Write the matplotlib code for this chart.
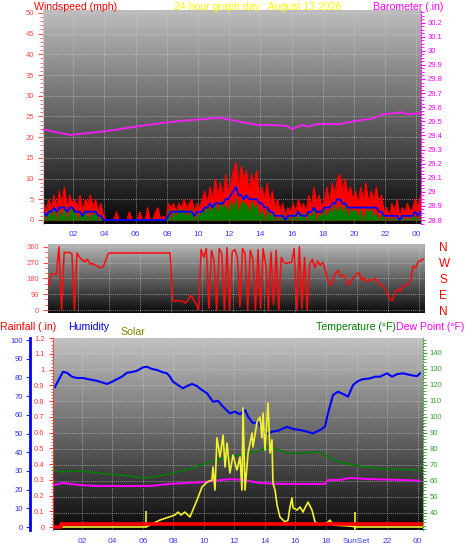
import numpy as np
import matplotlib.pyplot as plt
from matplotlib.ticker import MultipleLocator

plt.rcParams['font.family'] = ['Liberation Sans', 'DejaVu Sans']

# ---- time axis (hours since midnight) ----
hour_ticks = [2, 4, 6, 8, 10, 12, 14, 16, 18, 20, 22, 24]
hour_labels = ['02', '04', '06', '08', '10', '12', '14', '16', '18', '20', '22', '00']
hour_labels_bottom = ['02', '04', '06', '08', '10', '12', '14', '16', '18', 'SunSet', '22', '00']

# ---- wind: 10 minute samples starting 00:06 ----
wind_start = 0.1
wind_step = 1 / 6
gust = [4, 2, 5, 3, 6, 3, 7, 4, 8, 3, 6, 4, 5, 3, 6, 2, 5, 4, 6, 3, 5, 2, 4, 1,
        0, 0, 0, 0, 2, 0, 0, 0, 0, 2, 0, 0, 0, 2, 0, 0, 3, 0, 0, 2, 3, 0, 1, 0,
        4, 3, 4, 2, 4, 3, 5, 3, 4, 5, 2, 4, 3, 5, 7, 4, 8, 5, 10, 6, 9, 5, 11, 7,
        9, 12, 14, 8, 13, 10, 12, 7, 11, 9, 12, 6, 8, 5, 9, 4, 7, 3, 5, 2, 4, 1, 3, 2,
        4, 2, 5, 3, 4, 2, 6, 3, 8, 4, 6, 3, 5, 8, 4, 9, 6, 10, 11, 7, 10, 6, 8, 5,
        7, 4, 8, 5, 9, 4, 7, 5, 8, 4, 6, 2, 3, 1, 4, 2, 5, 1, 3, 2, 4, 2, 3, 5,
        3, 6]
avg = [2, 1, 2, 2, 3, 2, 3, 3, 3, 2, 3, 3, 2, 2, 2, 1, 2, 2, 2, 2, 2, 1, 1, 0,
       0, 0, 0, 0, 0, 0, 0, 0, 0, 0, 0, 0, 0, 0, 0, 0, 0, 0, 0, 0, 0, 0, 0, 0,
       1, 2, 2, 2, 2, 2, 2, 2, 2, 2, 1, 2, 2, 2, 3, 3, 4, 3, 4, 4, 4, 4, 5, 5,
       6, 7, 8, 6, 6, 5, 6, 5, 5, 5, 5, 4, 4, 3, 3, 2, 2, 1, 1, 1, 1, 0, 1, 1,
       1, 1, 2, 1, 1, 1, 2, 2, 3, 2, 2, 2, 3, 3, 3, 4, 4, 5, 5, 4, 4, 3, 3, 3,
       3, 3, 3, 3, 3, 3, 3, 3, 3, 2, 2, 1, 1, 1, 1, 1, 1, 0, 1, 1, 1, 1, 1, 2,
       1, 2]
speed = [2, 0, 3, 1, 3, 0, 3, 1, 4, 0, 3, 2, 3, 0, 2, 1, 3, 0, 2, 1, 3, 0, 1, 0,
         0, 0, 0, 0, 0, 0, 0, 0, 0, 0, 0, 0, 0, 0, 0, 0, 0, 0, 0, 0, 0, 0, 0, 0,
         3, 0, 3, 1, 3, 2, 3, 1, 2, 3, 0, 2, 1, 3, 2, 4, 2, 4, 4, 2, 5, 3, 4, 2,
         5, 3, 6, 2, 5, 4, 4, 2, 5, 3, 4, 1, 3, 0, 3, 1, 2, 0, 1, 0, 2, 0, 1, 0,
         2, 0, 2, 1, 2, 0, 2, 1, 3, 0, 2, 1, 3, 1, 3, 2, 4, 2, 4, 2, 4, 1, 3, 2,
         3, 1, 3, 0, 3, 2, 3, 1, 2, 0, 2, 0, 1, 0, 1, 0, 1, 0, 1, 0, 1, 0, 1, 1,
         0, 2]
wind_dir = [140, 205, 205, 205, 360, 0, 330,
            325, 330, 320, 0, 325, 300,
            285, 275, 290, 260, 265, 255,
            250, 240, 245, 280, 320, 325,
            325, 325, 325, 325, 325, 325, 325, 325, 325, 325, 325, 325,
            325, 325, 325, 325, 325, 325, 325, 325, 325, 325, 325,
            55, 50, 55, 52, 48, 40, 60,
            85, 60, 35,
            0, 345, 300, 350, 10, 340,
            280, 0, 350, 320, 0, 355,
            0, 330, 345, 300, 20, 350,
            320, 0, 340, 290, 0, 345,
            10, 350, 250, 0, 330, 30,
            340, 0, 300, 270, 265, 270,
            270, 350, 0, 360, 10, 300,
            0, 260, 290, 240, 280, 255,
            270, 230, 170, 140, 175, 210,
            225, 190, 200, 175, 140, 170,
            185, 200, 215, 170, 185, 160,
            175, 165, 180, 170, 150, 140,
            120, 90, 60, 55, 100, 120,
            105, 135, 140, 145, 170, 250,
            240, 275, 285, 290]

# ---- barometer ----
baro_t = [0.06, 1.79, 4.17, 6.28, 7.56, 8.85, 10.13, 11.41, 11.86, 12.69, 13.78, 14.81,
          15.71, 16.03, 16.67, 17.05, 17.63, 19.1, 20.19, 21.22, 21.86, 23.08, 23.4, 24.23]
baro = [29.443, 29.403, 29.431, 29.467, 29.486, 29.502, 29.514, 29.526, 29.516, 29.497,
        29.474, 29.474, 29.467, 29.445, 29.474, 29.462, 29.481, 29.481, 29.504, 29.521,
        29.55, 29.564, 29.55, 29.557]

# ---- humidity ----
hum_t = [0.23, 0.75, 1.02, 1.34, 1.67, 2.07, 2.39, 2.98, 3.38, 3.64, 3.97, 4.3, 4.62, 4.95,
         5.28, 5.61, 6.0, 6.26, 6.59, 6.92, 7.25, 7.57, 7.77, 7.97, 8.3, 8.62, 8.89, 9.21,
         9.54, 9.74, 10.2, 10.59, 10.92, 11.25, 11.7, 12.03, 12.36, 12.69, 12.89, 13.21,
         13.54, 13.8, 14.12, 14.46, 14.85, 15.44, 15.84, 16.3, 16.75, 17.15, 17.61, 17.93,
         18.13, 18.46, 18.79, 19.25, 19.44, 19.77, 20.03, 20.36, 20.89, 21.21, 21.54, 22.0,
         22.33, 22.66, 23.05, 23.51, 23.97, 24.16]
hum = [74.9, 83.0, 82.5, 80.4, 79.7, 79.7, 79.1, 78.2, 77.2, 76.5, 77.7, 79.1, 80.4, 82.5,
       82.9, 83.6, 85.4, 85.7, 84.5, 84.0, 82.9, 82.2, 80.4, 77.7, 75.9, 74.2, 75.4, 76.5,
       75.4, 74.0, 71.5, 67.0, 67.5, 64.3, 60.8, 61.7, 60.3, 62.6, 59.0, 55.5,
       56.3, 51.9, 49.7, 51.0, 51.5, 53.6, 52.4, 51.9, 51.0, 50.1, 51.9, 53.6,
       60.8, 70.6, 72.4, 70.6, 69.7, 75.9, 77.7, 79.0, 79.5, 80.4, 80.4, 82.2,
       80.4, 81.8, 82.2, 81.3, 80.7, 82.2]

# ---- temperature / dew point ----
temp_t = [0.1, 0.56, 1.5, 2.52, 3.84, 5.15, 6.0, 6.8, 7.57, 9.08, 10.39, 11.51, 12.36,
          13.48, 14.13, 14.52, 15.0, 15.44, 16.75, 17.61, 18.26, 18.92, 20.23, 22.0, 24.16]
temp = [67.3, 65.5, 66.0, 65.5, 64.0, 63.0, 61.7, 62.5, 64.0, 67.3, 71.7, 75.0, 76.0,
        78.5, 80.5, 80.5, 79.0, 77.0, 77.5, 78.0, 74.0, 71.7, 69.0, 67.3, 66.7]
dew_t = [0.1, 0.75, 1.87, 3.18, 5.15, 6.46, 7.77, 9.74, 10.72, 11.7, 12.56, 13.67, 14.98,
         16.3, 17.93, 18.13, 18.92, 19.57, 20.89, 22.85, 24.16]
dew = [57.3, 58.6, 57.3, 56.7, 56.7, 56.7, 58.0, 59.0, 60.0, 61.0, 60.5, 58.6, 58.0,
       58.0, 58.0, 60.5, 60.5, 61.7, 61.0, 60.5, 60.0]

# ---- solar (W/m2) ----
solar_t = [0.1, 6.2, 7.11, 8.1, 8.3, 8.49, 8.75, 9.08, 9.54, 9.87, 10.2, 10.52, 10.59,
           10.72, 10.85, 11.05, 11.25, 11.38, 11.51, 11.7, 11.9, 12.16, 12.36, 12.49,
           12.56, 12.69, 12.89, 13.15, 13.21, 13.48, 13.67, 13.8, 13.87, 14.0, 14.2,
           14.33, 14.46, 14.52, 14.66, 14.79, 14.98, 15.31, 15.51, 15.64, 15.77, 15.84,
           16.1, 16.3, 16.49, 16.82, 17.08, 17.28, 17.61, 18.07, 18.26, 18.46, 19.57,
           19.97, 24.3]
solar = [0, 0, 45, 78, 97, 78, 97, 65, 175, 260, 292, 305, 390,
         240, 580, 455, 598, 390, 546, 351, 468, 370, 455, 240,
         774, 240, 481, 611, 520, 683, 715, 579, 741, 500, 806,
         481, 566, 286, 240, 143, 65, 33, 45, 130, 189, 124,
         110, 130, 97, 162, 110, 33, 13, 26, 45, 13, 6,
         0, 0]
sunrise = 6.2
sunset = 19.9

# ---- rainfall ----
rain_t = [0.1, 0.6, 0.6, 24.36]
rain = [0, 0, 0.02, 0.02]

wind_ticks = [0, 5, 10, 15, 20, 25, 30, 35, 40, 45, 50]
baro_ticks = [28.8, 28.9, 29.0, 29.1, 29.2, 29.3, 29.4, 29.5, 29.6, 29.7, 29.8, 29.9, 30.0, 30.1, 30.2]
baro_labels = ['28.8', '28.9', '29', '29.1', '29.2', '29.3', '29.4', '29.5', '29.6', '29.7',
               '29.8', '29.9', '30', '30.1', '30.2']
dir_ticks = [0, 90, 180, 270, 360]
compass = ['N', 'E', 'S', 'W', 'N']
hum_ticks = [0, 10, 20, 30, 40, 50, 60, 70, 80, 90, 100]
rain_ticks = [0, 0.1, 0.2, 0.3, 0.4, 0.5, 0.6, 0.7, 0.8, 0.9, 1.0, 1.1, 1.2]
rain_labels = ['0', '0.1', '0.2', '0.3', '0.4', '0.5', '0.6', '0.7', '0.8', '0.9', '1', '1.1', '1.2']
temp_ticks = [40, 50, 60, 70, 80, 90, 100, 110, 120, 130, 140]

wind_t = wind_start + wind_step * np.arange(len(gust))

W, H = 470, 554
fig = plt.figure(figsize=(W / 100, H / 100), dpi=100)
fig.patch.set_facecolor('white')


def rect(l, t, r, b):
    return [l / W, 1 - b / H, (r - l) / W, (b - t) / H]


def background(r, top, bottom):
    bg = fig.add_axes(r)
    g = np.linspace(top, bottom, 256)[:, None]
    bg.imshow(g, cmap='gray', vmin=0, vmax=1, aspect='auto', extent=[0, 1, 0, 1])
    bg.set_axis_off()


def overlay(r):
    ax = fig.add_axes(r)
    ax.patch.set_visible(False)
    for s in ax.spines.values():
        s.set_visible(False)
    return ax


grid_kw = dict(color='#d0d0d0', ls=(0, (1, 1.5)), lw=0.6, alpha=0.8)
blue_lbl = '#3c3cff'

# ================= top: wind speed + barometer =================
r1 = rect(43, 10, 421, 224)
background(r1, 0.74, 0.03)
ax1 = overlay(r1)
ax1.set_xlim(0.06, 24.3)
ax1.set_ylim(-0.97, 50.7)
ax1.fill_between(wind_t, 0, gust, color='#ff0000', lw=0)
ax1.plot(wind_t, gust, color='#ff0000', lw=0.8)
ax1.fill_between(wind_t, 0, speed, color='#007f00', lw=0)
ax1.plot(wind_t, avg, color='#0000ff', lw=1.3)
ax1.set_xticks(hour_ticks)
ax1.set_xticklabels(hour_labels)
ax1.tick_params(axis='x', length=0, labelsize=6, labelcolor=blue_lbl, pad=5)
ax1.set_yticks(wind_ticks)
ax1.yaxis.set_minor_locator(MultipleLocator(1))
ax1.tick_params(axis='y', which='both', colors='#ff4a4a', labelsize=5.5, length=3.5, pad=3)
ax1.tick_params(axis='y', which='minor', length=2)
ax1.set_axisbelow(True)
ax1.grid(**grid_kw)
ax1.spines['left'].set_visible(True)
ax1.spines['left'].set_color('#c8c8c8')

ax1b = ax1.twinx()
for s in ax1b.spines.values():
    s.set_visible(False)
ax1b.spines['right'].set_visible(True)
ax1b.spines['right'].set_color('#ff00ff')
ax1b.spines['right'].set_linestyle(':')
ax1b.set_ylim(28.772, 30.289)
ax1b.plot(baro_t, baro, color='#ee22ee', lw=1.4)
ax1b.set_yticks(baro_ticks)
ax1b.set_yticklabels(baro_labels)
ax1b.yaxis.set_minor_locator(MultipleLocator(0.025))
ax1b.tick_params(axis='y', which='both', colors='#ff00ff', labelsize=5.5, length=3, pad=2)
ax1b.tick_params(axis='y', which='minor', length=2)

fig.text(34 / W, 1 - 9.5 / H, 'Windspeed (mph)', color='#ff0000', fontsize=7.6, va='baseline')
fig.text(258 / W, 1 - 9.5 / H, '24 hour graph day : August 13 2026', color='#ffff00',
         fontsize=7.6, va='baseline', ha='center')
fig.text(443 / W, 1 - 9.5 / H, 'Barometer (.in)', color='#ff00ff', fontsize=7.6,
         va='baseline', ha='right')

# ================= middle: wind direction =================
r2 = rect(48, 244, 424, 313)
background(r2, 0.72, 0.05)
ax2 = overlay(r2)
ax2.set_xlim(0.06, 24.3)
ax2.set_ylim(-17, 376)
ax2.plot(wind_t, wind_dir, color='#ff0a0a', lw=1.1)
ax2.set_xticks(hour_ticks)
ax2.tick_params(axis='x', length=0, labelbottom=False)
ax2.set_yticks(dir_ticks)
ax2.yaxis.set_minor_locator(MultipleLocator(30))
ax2.tick_params(axis='y', which='both', colors='#ff4a4a', labelsize=5.5, length=3.5, pad=3)
ax2.tick_params(axis='y', which='minor', length=2)
ax2.set_axisbelow(True)
ax2.grid(**grid_kw)

ax2r = ax2.twinx()
for s in ax2r.spines.values():
    s.set_visible(False)
ax2r.set_ylim(-17, 376)
ax2r.set_yticks(dir_ticks)
ax2r.set_yticklabels(compass)
ax2r.tick_params(axis='y', length=0, labelsize=8.5, labelcolor='#ff0000', pad=11)

# ================= bottom: rain / humidity / solar / temperature =================
r3 = rect(53, 338, 423, 530)
xlim3 = (0.1, 24.36)
background(r3, 0.76, 0.04)

ax_t = overlay(r3)
ax_t.set_xlim(*xlim3)
ax_t.set_ylim(29.2, 149.2)
ax_t.plot(temp_t, temp, color='#007f00', lw=1.1)
ax_t.plot(dew_t, dew, color='#ff00ff', lw=1.4)
ax_t.set_xticks(hour_ticks)
ax_t.tick_params(axis='x', length=0, labelbottom=False)
ax_t.set_yticks(temp_ticks)
ax_t.yaxis.set_minor_locator(MultipleLocator(2))
ax_t.yaxis.tick_right()
ax_t.tick_params(axis='y', which='both', colors='#3a9a3a', labelsize=5.5, length=3, pad=2)
ax_t.tick_params(axis='y', which='minor', length=2)
ax_t.spines['right'].set_visible(True)
ax_t.spines['right'].set_color('#3a9a3a')
ax_t.spines['right'].set_linestyle(':')
ax_t.set_axisbelow(True)
ax_t.grid(**grid_kw)

ax_h = overlay(r3)
ax_h.set_xlim(*xlim3)
ax_h.set_ylim(-1.6, 101.1)
ax_h.plot(hum_t, hum, color='#0000ff', lw=1.5)
ax_h.set_xticks([])
ax_h.set_yticks(hum_ticks)
ax_h.spines['left'].set_visible(True)
ax_h.spines['left'].set_position(('axes', -23 / 370))
ax_h.spines['left'].set_color('#0000ff')
ax_h.spines['left'].set_linewidth(2)
ax_h.tick_params(axis='y', colors='#3030ff', labelsize=5.5, length=3, pad=2)

ax_s = overlay(r3)
ax_s.set_xlim(*xlim3)
ax_s.set_ylim(-19.5, 1228.5)
ax_s.plot(solar_t, solar, color='#f2f22a', lw=1.2)
ax_s.vlines([sunrise, sunset], [0, -19.5], [104, 97], color='#f2f22a', lw=1.2)
ax_s.set_axis_off()

ax_r = overlay(r3)
ax_r.set_xlim(*xlim3)
ax_r.set_ylim(-0.019, 1.2015)
ax_r.plot(rain_t, rain, color='#ff0000', lw=2.6)
ax_r.set_xticks(hour_ticks)
ax_r.set_xticklabels(hour_labels_bottom)
ax_r.tick_params(axis='x', length=0, labelsize=6, labelcolor=blue_lbl, pad=6)
ax_r.set_yticks(rain_ticks)
ax_r.set_yticklabels(rain_labels)
ax_r.yaxis.set_minor_locator(MultipleLocator(0.02))
ax_r.tick_params(axis='y', which='both', colors='#ff3a3a', labelsize=5.5, length=3, pad=3)
ax_r.tick_params(axis='y', which='minor', length=1.5)
ax_r.spines['left'].set_visible(True)
ax_r.spines['left'].set_color('#ff3a3a')
ax_r.spines['left'].set_linestyle(':')

fig.text(0 / W, 1 - 329.5 / H, 'Rainfall (.in)', color='#ff0000', fontsize=7.6, va='baseline')
fig.text(68 / W, 1 - 329.5 / H, 'Humidity', color='#0000ff', fontsize=7.6, va='baseline')
fig.text(120 / W, 1 - 335 / H, 'Solar', color='#808000', fontsize=7.6, va='baseline')
fig.text(316 / W, 1 - 329.5 / H, 'Temperature (\u00b0F)', color='#008000', fontsize=7.6,
         va='baseline')
fig.text(396 / W, 1 - 329.5 / H, 'Dew Point (\u00b0F)', color='#ff00ff', fontsize=7.6,
         va='baseline')

fig.savefig('out.png', dpi=100, facecolor='white')
